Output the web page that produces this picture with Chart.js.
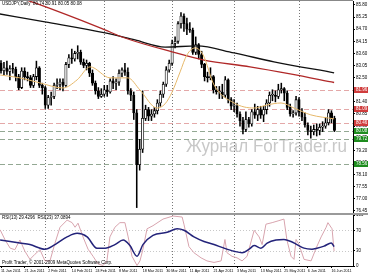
<!DOCTYPE html>
<html>
<head>
<meta charset="utf-8">
<script src="https://cdn.jsdelivr.net/npm/chart.js@4.4.0/dist/chart.umd.min.js"></script>
<style>
    html, body { margin: 0; padding: 0; background: #fff; }
    #wrap { position: relative; width: 368px; height: 276px; overflow: hidden; }
    #priceBox { position: absolute; left: 0; top: 0; width: 368px; height: 213px; }
    #rsiBox { position: absolute; left: 0; top: 213px; width: 368px; height: 63px; }
</style>
</head>
<body>
<div id="wrap">
    <div id="priceBox"><canvas id="priceChart"></canvas></div>
    <div id="rsiBox"><canvas id="rsiChart"></canvas></div>
</div>
<script>
// Daily USDJPY bars, 11 Jan 2011 .. 17 Jun 2011 (bar index 0..113)
const barOpen = [83.15,82.82,82.95,82.78,82.90,82.88,82.55,82.05,82.80,82.55,82.50,82.15,82.55,82.95,82.15,82.05,81.25,81.60,81.65,82.15,
    82.20,82.30,82.15,83.10,83.40,83.35,83.60,83.65,83.20,83.05,83.15,82.70,82.25,81.90,81.65,81.75,81.95,81.85,82.35,82.25,
    82.30,82.70,82.85,82.75,81.90,81.70,80.90,78.55,79.25,80.65,81.05,80.75,80.85,81.00,81.35,81.75,82.20,82.85,83.15,84.05,
    84.15,84.95,85.30,84.95,84.70,84.65,83.65,84.00,83.55,83.10,82.55,82.50,82.55,81.95,81.85,81.85,81.70,82.40,81.50,81.20,
    81.20,80.85,80.55,80.15,80.60,80.40,80.95,80.80,81.05,80.80,81.05,81.35,81.70,81.70,81.65,81.95,82.00,81.80,81.15,80.85,
    80.90,81.50,80.95,80.70,80.35,80.10,80.05,80.15,80.10,80.25,80.30,80.45,80.90,80.65];
const barHigh = [83.28,83.20,83.25,83.05,83.15,82.98,82.65,82.95,82.95,82.75,82.60,82.65,83.25,83.00,82.25,82.10,81.70,81.85,82.25,82.45,
    82.45,82.45,83.20,83.55,83.80,83.70,83.95,83.75,83.35,83.30,83.20,82.85,82.35,82.05,82.00,82.15,82.15,82.45,82.55,82.45,
    82.85,82.95,83.15,82.95,82.00,81.85,81.05,79.70,81.90,81.25,81.15,81.05,81.15,81.50,81.90,82.30,83.00,83.30,84.20,84.35,
    85.05,85.45,85.40,85.20,85.00,84.75,84.35,84.05,83.70,83.15,82.75,82.95,82.60,82.10,82.10,82.20,82.55,82.45,81.60,81.50,
    81.35,80.95,80.70,80.95,80.70,81.05,81.30,81.20,81.20,81.20,81.50,81.85,81.95,81.90,82.20,82.25,82.05,81.90,81.30,81.00,
    81.65,81.60,81.10,80.90,80.45,80.30,80.35,80.40,80.40,80.50,80.70,81.05,81.00,80.75];
const barLow = [82.70,82.62,82.65,82.40,82.70,82.35,81.95,82.00,82.40,82.35,82.05,82.05,82.40,82.05,81.75,81.10,81.10,81.25,81.55,82.00,
    81.95,81.90,82.10,82.95,83.15,83.25,83.35,83.10,82.95,82.85,82.55,82.15,81.75,81.55,81.60,81.65,81.65,81.80,82.00,81.95,
    82.15,82.55,82.60,81.75,81.45,80.60,76.60,78.30,79.10,80.55,80.55,80.55,80.70,80.85,81.20,81.60,82.10,82.75,83.05,83.85,
    84.05,84.75,84.60,84.45,84.55,83.55,83.55,83.35,82.95,82.35,82.30,82.40,81.80,81.75,81.55,81.55,81.60,81.35,81.05,80.95,
    80.70,80.30,79.95,80.05,80.25,80.30,80.65,80.55,80.65,80.50,80.85,81.20,81.45,81.40,81.55,81.80,81.45,81.05,80.75,80.70,
    80.80,80.75,80.55,80.25,79.90,79.75,79.90,79.85,79.90,80.05,80.20,80.35,80.45,80.05];
const barClose = [82.82,82.95,82.78,82.90,82.88,82.55,82.05,82.80,82.55,82.50,82.15,82.55,82.95,82.15,82.05,81.25,81.60,81.65,82.15,82.20,
    82.30,82.15,83.10,83.40,83.35,83.60,83.65,83.20,83.05,83.15,82.70,82.25,81.90,81.65,81.75,81.95,81.85,82.35,82.25,82.30,
    82.70,82.85,82.75,81.90,81.70,80.90,78.55,79.25,80.65,81.05,80.75,80.85,81.00,81.35,81.75,82.20,82.85,83.15,84.05,84.15,
    84.95,85.30,84.95,84.70,84.65,83.65,84.00,83.55,83.10,82.55,82.50,82.55,81.95,81.85,81.85,81.70,82.40,81.50,81.20,81.20,
    80.85,80.55,80.15,80.60,80.40,80.95,80.80,81.05,80.80,81.05,81.35,81.70,81.70,81.65,81.95,82.00,81.80,81.15,80.85,80.90,
    81.50,80.95,80.70,80.35,80.10,80.05,80.15,80.10,80.25,80.30,80.45,80.90,80.65,80.10];

// Moving averages (bar index, price)
const maFastX = [-0.3, 6.4, 13.2, 21, 25.8, 30.2, 37, 43, 47.1, 52.9, 55.6, 58, 60.7, 63, 65.8, 68.5, 72.2, 79, 85.8, 90.2, 94.9, 99.3, 105, 112.9];
const maFastY = [82.62, 82.49, 82.26, 82.03, 82.40, 82.99, 82.49, 82.49, 81.94, 81.12, 81.31, 81.85, 82.76, 83.53, 83.85, 83.53, 82.17, 81.35, 81.12, 81.26, 81.35, 81.12, 80.81, 80.63];
const maRedX = [-0.4, 11.5, 33.6, 42, 58, 68.8, 84.4, 98, 112.9];
const maRedY = [86.44, 85.89, 84.76, 84.30, 83.67, 83.30, 82.99, 82.67, 82.28];
const maBlackX = [-0.4, 14.9, 35.3, 45.4, 55.6, 66.4, 79, 92.5, 112.9];
const maBlackY = [85.39, 85.03, 84.53, 84.21, 83.89, 83.94, 83.62, 83.22, 82.72];

// RSI panel
const rsiFastX = [-0.3,1.4,3.1,4.7,6.4,8.1,9.8,11.5,13.2,14.9,16.6,18.3,20,22.4,24.1,25.1,26.1,27.8,29.5,31.2,32.9,34.6,35.9,36.9,38.6,40.3,42,43.1,44.4,46.1,47.1,48.1,49.5,51.5,54.9,58.3,61.4,62,63.7,65.4,67.8,69.8,72.2,74.6,75.9,76.6,78.3,80,81.7,83.4,85.8,87.5,88.5,89.8,91.9,94.2,95.9,96.9,98.3,99.3,100,101,102.7,105.1,106.8,108.5,110.2,110.8,112.2,112.9];
const rsiFastY = [71,51,35,32,51,29,13,23,32,10,10,45,76,90,85,76,84,57,33,19,4,1,10,57,76,85,85,57,19,1,10,33,73,79,92,98,96,82,38,26,16,10,7,10,52,26,19,16,10,19,70,57,42,82,85,89,92,51,19,13,52,42,13,10,35,57,76,85,73,29];
const rsiSlowX = [-0.3,3.1,6.4,9.8,14.9,18.3,22.4,25.8,29.2,32.5,35.3,38.6,41.4,43.7,46.1,48.1,51.5,56.3,59.7,62,65.4,68.8,72.2,75.6,79,81.7,84.1,85.8,88.1,90.2,93.2,95.9,98.3,100.3,102.7,105.4,107.1,109.5,111.9,112.9];
const rsiSlowY = [51,48,45,42,33,42,57,64,57,35,35,42,51,40,19,42,60,66,73,70,57,48,42,35,29,26,33,40,35,45,51,52,48,42,35,33,35,39,45,38];
const rsiTicks = [0, 30, 70, 100];
const rsiLevels = [30, 70];

// axes
const priceTicks = [85.80,85.25,84.70,84.15,83.60,83.05,82.50,81.95,81.40,80.85,80.30,79.75,79.20,78.65,78.10,77.55,77.00,76.45];
const dateTickIndex = [0, 8, 16, 24, 32, 40, 48, 56, 64, 72, 80, 88, 96, 104, 112];
const dateTickLabels = ['11 Jan 2011','21 Jan 2011','2 Feb 2011','14 Feb 2011','24 Feb 2011','8 Mar 2011','18 Mar 2011','30 Mar 2011',
    '11 Apr 2011','21 Apr 2011','3 May 2011','13 May 2011','25 May 2011','6 Jun 2011','16 Jun 2011'];
const monthStarts = [15, 35, 58, 79, 101];

// support / resistance levels
const resistance = [81.96, 81.09, 80.46];
const support = [80.08, 79.72, 78.56];

const X_MIN = -0.34, X_MAX = 119.3;
Chart.defaults.font.family = "'Liberation Sans', Arial, sans-serif";
Chart.defaults.color = '#000';

const pts = (xs, ys) => xs.map((x, k) => ({x: x, y: ys[k]}));

function monthLines(chart) {
    const {ctx, chartArea: a, scales: {x}} = chart;
    ctx.save();
    ctx.strokeStyle = '#777';
    ctx.lineWidth = 1;
    ctx.setLineDash([1, 2]);
    monthStarts.forEach(m => {
        const px = Math.round(x.getPixelForValue(m)) + 0.5;
        ctx.beginPath();
        ctx.moveTo(px, a.top);
        ctx.lineTo(px, a.bottom);
        ctx.stroke();
    });
    ctx.restore();
}

const pricePlugin = {
    id: 'pricePlugin',
    beforeDatasetsDraw(chart) {
        const {ctx, chartArea: a, scales: {y}} = chart;
        // watermark
        ctx.save();
        ctx.fillStyle = '#c8c8c8';
        ctx.font = "19px 'Liberation Sans', Arial, sans-serif";
        const wm = 'Журнал ForTrader.ru';
        const w = ctx.measureText(wm).width;
        ctx.translate(186, 152);
        ctx.scale(161 / w, 1);
        ctx.fillText(wm, 0, 0);
        ctx.restore();

        monthLines(chart);

        ctx.save();
        ctx.lineWidth = 1;
        ctx.setLineDash([5, 3]);
        const drawLevel = (v, col) => {
            const py = Math.round(y.getPixelForValue(v)) + 0.5;
            ctx.strokeStyle = col;
            ctx.beginPath();
            ctx.moveTo(a.left, py);
            ctx.lineTo(a.right, py);
            ctx.stroke();
        };
        resistance.forEach(v => drawLevel(v, '#e4a8a8'));
        support.forEach(v => drawLevel(v, '#93a893'));
        ctx.restore();
    },
    afterDraw(chart) {
        const {ctx, chartArea: a, scales: {y}} = chart;
        ctx.save();
        ctx.font = "4.5px 'Liberation Sans', Arial, sans-serif";
        ctx.textBaseline = 'middle';
        const box = (v, col) => {
            const py = Math.round(y.getPixelForValue(v));
            ctx.fillStyle = col;
            ctx.fillRect(a.right + 1, py - 3, 14, 6);
            ctx.fillStyle = '#fff';
            ctx.fillText(v.toFixed(2), a.right + 3, py);
        };
        resistance.forEach(v => box(v, '#d03c3c'));
        support.forEach(v => box(v, '#1e8c1e'));

        // frame top
        ctx.strokeStyle = '#888';
        ctx.beginPath();
        ctx.moveTo(a.left, 0.5);
        ctx.lineTo(a.right, 0.5);
        ctx.stroke();

        ctx.fillStyle = '#000';
        ctx.font = "4.5px 'Liberation Sans', Arial, sans-serif";
        ctx.textBaseline = 'top';
        ctx.fillText('USDJPY,Daily  80.74 80.91 80.05 80.08', 2, 2);
        ctx.restore();
    }
};

const rsiPlugin = {
    id: 'rsiPlugin',
    beforeDatasetsDraw(chart) {
        const {ctx, chartArea: a, scales: {y}} = chart;
        monthLines(chart);
        ctx.save();
        ctx.strokeStyle = '#c8c8c8';
        ctx.setLineDash([1, 2]);
        rsiLevels.forEach(v => {
            const py = Math.round(y.getPixelForValue(v)) + 0.5;
            ctx.beginPath();
            ctx.moveTo(a.left, py);
            ctx.lineTo(a.right, py);
            ctx.stroke();
        });
        ctx.restore();
    },
    afterDraw(chart) {
        const {ctx, chartArea: a} = chart;
        ctx.save();
        // window separator
        ctx.fillStyle = '#9a9a9a';
        ctx.fillRect(0, 0, 368, 2);
        ctx.fillStyle = '#000';
        ctx.font = "4.5px 'Liberation Sans', Arial, sans-serif";
        ctx.textBaseline = 'top';
        ctx.fillText('RSI(13) 29.4296  RSI(23) 37.0894', 2, 3);
        ctx.textBaseline = 'bottom';
        ctx.fillText('Profit Trader, \u00a9 2001-2009 MetaQuotes Software Corp.', 2, a.bottom - 1);
        ctx.restore();
    }
};

function setupPriceChart() {
    const ctx = document.getElementById('priceChart');
    const idx = barOpen.map((_, i) => i);
    new Chart(ctx, {
        type: 'bar',
        data: {
            datasets: [
                { type: 'line', data: pts(maFastX, maFastY), borderColor: '#e6b86a', borderWidth: 1, pointRadius: 0, cubicInterpolationMode: 'monotone', order: 0 },
                { type: 'line', data: pts(maRedX, maRedY), borderColor: '#b02828', borderWidth: 1.3, pointRadius: 0, cubicInterpolationMode: 'monotone', order: 0 },
                { type: 'line', data: pts(maBlackX, maBlackY), borderColor: '#111', borderWidth: 1.3, pointRadius: 0, cubicInterpolationMode: 'monotone', order: 0 },
                {
                    data: idx.map(i => ({x: i, y: [barOpen[i], barClose[i]]})),
                    backgroundColor: idx.map(i => barClose[i] >= barOpen[i] ? '#fff' : '#000'),
                    borderColor: '#000', borderWidth: 0.8, borderSkipped: false,
                    barThickness: 2.4, grouped: false, minBarLength: 1, order: 1
                },
                {
                    data: idx.map(i => ({x: i, y: [barLow[i], barHigh[i]]})),
                    backgroundColor: '#000', barThickness: 0.9, grouped: false, order: 2
                }
            ]
        },
        options: {
            responsive: true,
            maintainAspectRatio: false,
            animation: false,
            devicePixelRatio: 1,
            layout: { padding: { top: 1, bottom: 1, left: 0, right: 0 } },
            plugins: { legend: { display: false }, tooltip: { enabled: false } },
            scales: {
                x: { type: 'linear', min: X_MIN, max: X_MAX, offset: false, display: false },
                y: {
                    position: 'right', min: 76.40, max: 85.98,
                    afterFit(s) { s.width = 15; s.paddingTop = 0; s.paddingBottom = 0; },
                    afterBuildTicks(s) { s.ticks = priceTicks.map(v => ({value: v})); },
                    ticks: { font: { size: 4.5 }, padding: 1, callback: v => Number(v).toFixed(2) },
                    grid: { drawOnChartArea: false, tickLength: 2, color: '#000' },
                    border: { color: '#000' }
                }
            }
        },
        plugins: [pricePlugin]
    });
}

function setupRsiChart() {
    const ctx = document.getElementById('rsiChart');
    new Chart(ctx, {
        type: 'line',
        data: {
            datasets: [
                { data: pts(rsiSlowX, rsiSlowY), borderColor: '#23237a', borderWidth: 1.5, pointRadius: 0, cubicInterpolationMode: 'monotone' },
                { data: pts(rsiFastX, rsiFastY), borderColor: '#d8a4ae', borderWidth: 1, pointRadius: 0, tension: 0 }
            ]
        },
        options: {
            responsive: true,
            maintainAspectRatio: false,
            animation: false,
            devicePixelRatio: 1,
            layout: { padding: { top: 2, bottom: 0, left: 0, right: 0 } },
            plugins: { legend: { display: false }, tooltip: { enabled: false } },
            scales: {
                x: {
                    type: 'linear', min: X_MIN, max: X_MAX, offset: false,
                    afterFit(s) { s.height = 10; s.paddingLeft = 0; s.paddingRight = 0; },
                    afterBuildTicks(s) { s.ticks = dateTickIndex.map(v => ({value: v})); },
                    ticks: {
                        font: { size: 3.7 }, padding: 1, maxRotation: 0, autoSkip: false, align: 'start',
                        callback: v => dateTickLabels[dateTickIndex.indexOf(v)]
                    },
                    grid: { drawOnChartArea: false, tickLength: 2, color: '#000' },
                    border: { color: '#000' }
                },
                y: {
                    position: 'right', min: 0, max: 100,
                    afterFit(s) { s.width = 15; s.paddingTop = 0; s.paddingBottom = 0; },
                    afterBuildTicks(s) { s.ticks = rsiTicks.map(v => ({value: v})); },
                    ticks: { font: { size: 4.5 }, padding: 1 },
                    grid: { drawOnChartArea: false, tickLength: 2, color: '#000' },
                    border: { color: '#000' }
                }
            }
        },
        plugins: [rsiPlugin]
    });
}

document.addEventListener('DOMContentLoaded', function() {
    setupPriceChart();
    setupRsiChart();
});
</script>
</body>
</html>
